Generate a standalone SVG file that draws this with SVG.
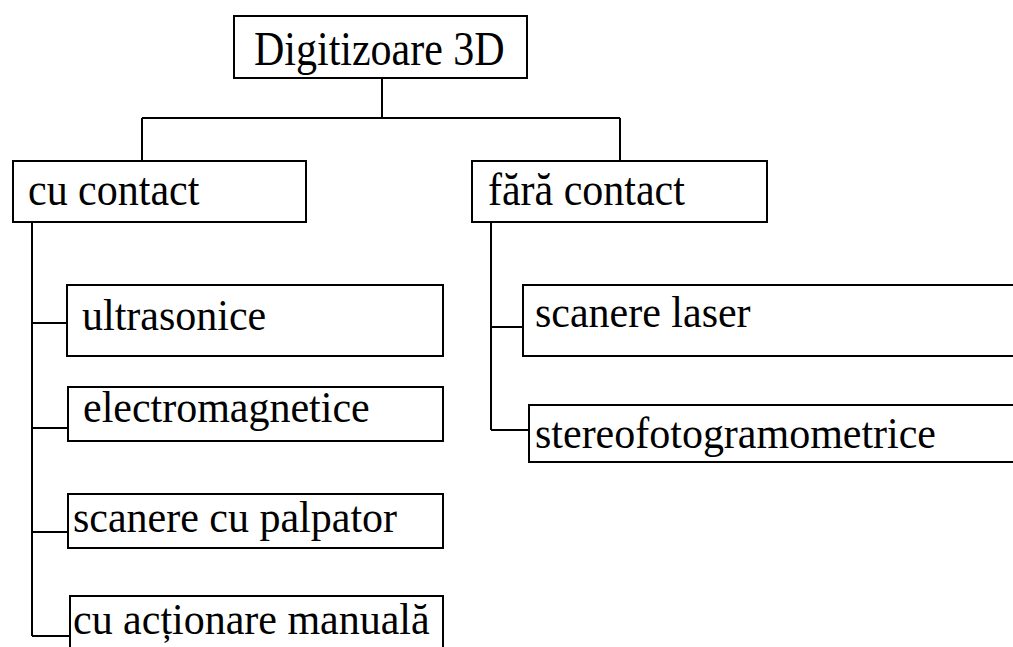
<svg xmlns="http://www.w3.org/2000/svg" width="1013" height="647" viewBox="0 0 1013 647">
  <style>
    .box { fill: #ffffff; stroke: #000000; stroke-width: 2; }
    .wire { fill: none; stroke: #000000; stroke-width: 2; }
    .label { font-family: "Liberation Serif", "Times New Roman", serif; font-size: 42px; fill: #000000; }
  </style>
  <rect width="1013" height="647" fill="#ffffff"/>

  <!-- connectors -->
  <g id="connectors">
    <path class="wire" d="M382 78 V118 M142 118 H620 M142 118 V161 M620 118 V161"/>
    <path class="wire" d="M32 222 V636 M32 323 H67 M32 428 H68 M32 532 H68 M32 636 H70"/>
    <path class="wire" d="M491 222 V430 M491 327 H523 M491 430 H529"/>
  </g>

  <g id="root">
    <rect class="box" x="234" y="16" width="293" height="62"/>
    <text class="label" transform="translate(254 65) scale(1 1.18)">Digitizoare 3D</text>
  </g>

  <g id="cu-contact">
    <rect class="box" x="13" y="161" width="293" height="61"/>
    <text class="label" transform="translate(28 205) scale(1 1.1)">cu contact</text>
  </g>

  <g id="fara-contact">
    <rect class="box" x="472" y="161" width="295" height="61"/>
    <text class="label" transform="translate(488 205) scale(1 1.1)">fără contact</text>
  </g>

  <g id="ultrasonice">
    <rect class="box" x="67" y="285" width="376" height="71"/>
    <text class="label" transform="translate(82 330) scale(1 1.05)">ultrasonice</text>
  </g>

  <g id="electromagnetice">
    <rect class="box" x="68" y="387" width="375" height="54"/>
    <text class="label" transform="translate(83 422) scale(1 1.05)">electromagnetice</text>
  </g>

  <g id="scanere-palpator">
    <rect class="box" x="68" y="494" width="375" height="54"/>
    <text class="label" transform="translate(73 532) scale(1 1.05)">scanere cu palpator</text>
  </g>

  <g id="actionare-manuala">
    <rect class="box" x="70" y="596" width="373" height="70"/>
    <text class="label" transform="translate(73 634) scale(1 1.05)">cu acționare manuală</text>
  </g>

  <g id="scanere-laser">
    <rect class="box" x="523" y="285" width="500" height="71"/>
    <text class="label" transform="translate(535 327) scale(1 1.05)">scanere laser</text>
  </g>

  <g id="stereofotogramometrice">
    <rect class="box" x="529" y="405" width="494" height="57"/>
    <text class="label" transform="translate(535 448) scale(1 1.05)">stereofotogramometrice</text>
  </g>
</svg>
